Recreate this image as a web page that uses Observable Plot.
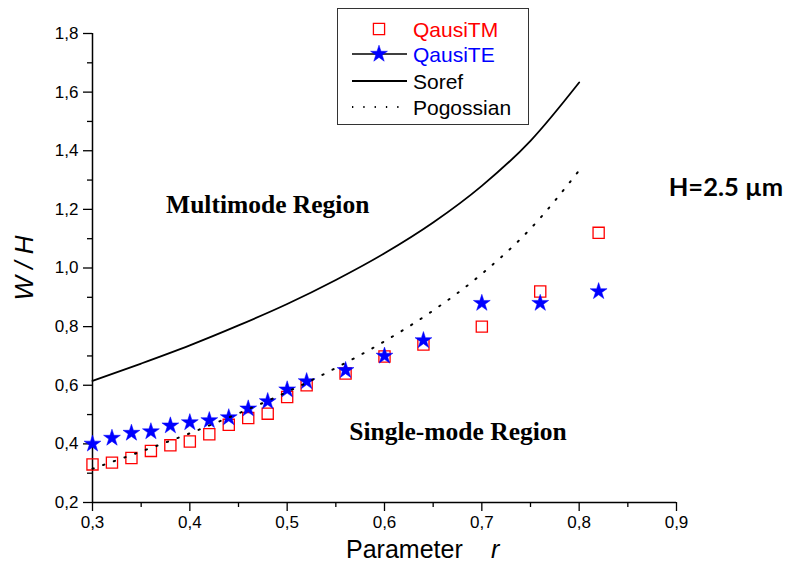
<!DOCTYPE html>
<html>
<head>
<meta charset="utf-8">
<script src="https://cdn.jsdelivr.net/npm/d3@7"></script>
<script src="https://cdn.jsdelivr.net/npm/@observablehq/plot@0.6"></script>
<style>
  html, body { margin: 0; padding: 0; background: #fff; }
  #chart svg { display: block; }
</style>
</head>
<body>
<div id="chart"></div>
<script>
// Quasi-TM (squares) and quasi-TE (stars) single-mode limits, W/H versus r
const rPoints = [0.30, 0.32, 0.34, 0.36, 0.38, 0.40, 0.42, 0.44, 0.46, 0.48, 0.50, 0.52, 0.56, 0.60, 0.64, 0.70, 0.76, 0.82];
const wQuasiTM = [0.330, 0.336, 0.352, 0.376, 0.395, 0.408, 0.433, 0.465, 0.488, 0.503, 0.560, 0.600, 0.640, 0.698, 0.739, 0.800, 0.920, 1.120];
const wQuasiTE = [0.400, 0.420, 0.437, 0.442, 0.462, 0.473, 0.480, 0.490, 0.520, 0.545, 0.585, 0.613, 0.651, 0.700, 0.753, 0.880, 0.880, 0.920];

// Analytical boundaries (Soref, Pogossian)
const rCurve = [0.30, 0.35, 0.40, 0.45, 0.50, 0.55, 0.60, 0.65, 0.70, 0.75, 0.80];
const wSoref = [0.615, 0.674, 0.736, 0.804, 0.877, 0.959, 1.050, 1.155, 1.280, 1.434, 1.633];
const wPogossian = [0.315, 0.374, 0.436, 0.504, 0.577, 0.659, 0.750, 0.855, 0.980, 1.134, 1.333];

// Axis ticks
const xMajor = [0.3, 0.4, 0.5, 0.6, 0.7, 0.8, 0.9];
const xMinor = [0.35, 0.45, 0.55, 0.65, 0.75, 0.85];
const yMajor = [0.2, 0.4, 0.6, 0.8, 1.0, 1.2, 1.4, 1.6, 1.8];
const yMinor = [0.3, 0.5, 0.7, 0.9, 1.1, 1.3, 1.5, 1.7];

const seriesNames = ["QausiTM", "QausiTE", "Soref", "Pogossian"];
const regionNames = ["Multimode Region", "Single-mode Region"];
const heightNote = "H=2.5 µm";

const tm = rPoints.map((r, i) => ({r, w: wQuasiTM[i]}));
const te = rPoints.map((r, i) => ({r, w: wQuasiTE[i]}));
const soref = rCurve.map((r, i) => ({r, w: wSoref[i]}));
const pogossian = rCurve.map((r, i) => ({r, w: wPogossian[i]}));

const comma = d => d3.format(".1f")(d).replace(".", ",");
const RED = "#ff0000", BLUE = "#0000ff";
const MARK_R = 6.3, STAR_R = 5.3;
const DOTS = "1.3 10";
const SERIF = "'Liberation Serif', 'Times New Roman', serif";
const SANS = "'Liberation Sans', Arial, sans-serif";

const chart = Plot.plot({
  width: 788,
  height: 571,
  marginLeft: 92,
  marginRight: 112,
  marginTop: 33,
  marginBottom: 69,
  x: {domain: [0.3, 0.9]},
  y: {domain: [0.2, 1.8]},
  style: {fontFamily: SANS, fontSize: "17px", color: "#000", background: "#fff", overflow: "visible"},
  marks: [
    Plot.axisX({ticks: xMinor, tickSize: 5, tickFormat: () => "", label: null, strokeWidth: 1.3}),
    Plot.axisX({ticks: xMajor, tickSize: 9, tickPadding: 4, tickFormat: comma, label: null, strokeWidth: 1.3, fontSize: 17}),
    Plot.axisY({ticks: yMinor, tickSize: 5, tickFormat: () => "", label: null, strokeWidth: 1.3}),
    Plot.axisY({ticks: yMajor, tickSize: 9, tickPadding: 5, tickFormat: comma, label: null, strokeWidth: 1.3, fontSize: 17}),
    Plot.ruleY([0.2], {stroke: "#000", strokeWidth: 1.5}),
    Plot.ruleX([0.3], {stroke: "#000", strokeWidth: 1.5}),
    Plot.dot(tm, {x: "r", y: "w", symbol: "square", r: MARK_R, stroke: RED, strokeWidth: 1.3, fill: "none"}),
    Plot.dot(te, {x: "r", y: "w", symbol: "star", r: STAR_R, fill: BLUE, stroke: BLUE, strokeWidth: 0.5}),
    Plot.line(soref, {x: "r", y: "w", curve: "monotone-x", stroke: "#000", strokeWidth: 1.8}),
    Plot.line(pogossian, {x: "r", y: "w", curve: "monotone-x", stroke: "#000", strokeWidth: 2, strokeDasharray: DOTS}),
    Plot.text([regionNames[0]], {x: () => 0.48, y: () => 1.214, text: d => d, fontFamily: SERIF, fontWeight: "bold", fontSize: 25.5, fill: "#000"}),
    Plot.text([regionNames[1]], {x: () => 0.6755, y: () => 0.44, text: d => d, fontFamily: SERIF, fontWeight: "bold", fontSize: 25.5, fill: "#000"}),
    Plot.text([heightNote], {x: () => 0.892, y: () => 1.275, text: d => d, textAnchor: "start", fontFamily: "Lato, 'Open Sans', sans-serif", fontWeight: "bold", fontSize: 25.5, fill: "#000"})
  ]
});

document.getElementById("chart").appendChild(chart);

// Axis titles and the boxed legend
const svg = d3.select(chart);

svg.append("text")
  .attr("transform", "translate(24,268) rotate(-90)")
  .attr("text-anchor", "middle")
  .attr("dominant-baseline", "central")
  .style("font", `italic 26px ${SANS}`)
  .text("W / H");

const xt = svg.append("text")
  .attr("x", 346).attr("y", 549)
  .attr("text-anchor", "start")
  .attr("dominant-baseline", "central")
  .style("font", `25px ${SANS}`);
xt.append("tspan").text("Parameter");
xt.append("tspan").attr("x", 491).style("font-style", "italic").text("r");

const lg = svg.append("g").attr("text-anchor", "start");
lg.append("rect")
  .attr("x", 337.5).attr("y", 8.5).attr("width", 191).attr("height", 116)
  .attr("fill", "#fff").attr("stroke", "#333").attr("stroke-width", 1);

const rowY = [29, 54, 81, 107];
const rowColor = [RED, BLUE, "#000", "#000"];
const sym = (type, r) => d3.symbol(type, Math.PI * r * r)();

// QausiTM: open square only
lg.append("path").attr("transform", `translate(379,${rowY[0]})`).attr("d", sym(d3.symbolSquare, MARK_R))
  .attr("fill", "none").attr("stroke", RED).attr("stroke-width", 1.3);
// QausiTE: line with star
lg.append("line").attr("x1", 352).attr("x2", 407).attr("y1", rowY[1]).attr("y2", rowY[1]).attr("stroke", "#000").attr("stroke-width", 1.3);
lg.append("path").attr("transform", `translate(379,${rowY[1]})`).attr("d", sym(d3.symbolStar, STAR_R))
  .attr("fill", BLUE).attr("stroke", BLUE).attr("stroke-width", 0.5);
// Soref: solid line
lg.append("line").attr("x1", 352).attr("x2", 407).attr("y1", rowY[2]).attr("y2", rowY[2]).attr("stroke", "#000").attr("stroke-width", 1.8);
// Pogossian: dotted line
lg.append("line").attr("x1", 352).attr("x2", 407).attr("y1", rowY[3]).attr("y2", rowY[3]).attr("stroke", "#000").attr("stroke-width", 2).attr("stroke-dasharray", DOTS);

seriesNames.forEach((name, i) => {
  lg.append("text")
    .attr("x", 413).attr("y", rowY[i])
    .attr("text-anchor", "start")
    .attr("dominant-baseline", "central")
    .attr("fill", rowColor[i])
    .style("font", `21px ${SANS}`)
    .text(name);
});
</script>
</body>
</html>
